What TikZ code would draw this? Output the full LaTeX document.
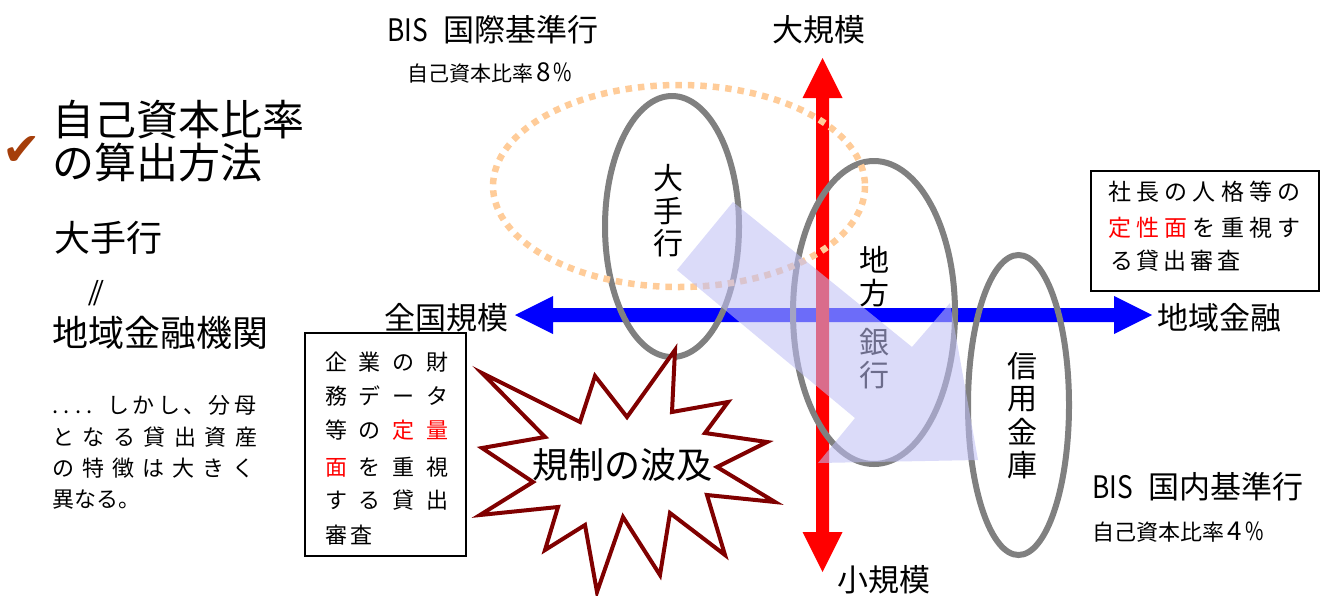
\documentclass[tikz,border=0pt]{standalone}
\usepackage{fontspec}
\usepackage{graphicx}
\setmainfont{Noto Sans CJK JP}
\newfontfamily\dejavu{DejaVu Sans}
\newfontfamily\libserif{Liberation Serif}
\newcommand\fs[1]{\fontsize{#1}{#1}\selectfont}
\makeatletter
\def\sp@stop{\sp@stop}
\newcommand\spreadtxt[2]{\def\sp@w{#1}\sp@loop#2\sp@stop}
\def\sp@loop#1{\ifx#1\sp@stop\else\makebox[\sp@w][l]{#1}\expandafter\sp@loop\fi}
\makeatother
\definecolor{ellgray}{RGB}{128,128,128}
\definecolor{axred}{RGB}{255,0,0}
\definecolor{axblue}{RGB}{0,0,255}
\definecolor{dotorange}{RGB}{255,204,153}
\definecolor{starred}{RGB}{128,0,0}
\definecolor{checkbrown}{RGB}{165,62,10}
\definecolor{arrowlav}{rgb}{0.75,0.75,0.96}
\definecolor{txtred}{RGB}{255,0,0}
\begin{document}
\begin{tikzpicture}[x=1pt,y=-1pt,
  txt/.style={inner sep=0pt, anchor=west},
  ctxt/.style={inner sep=0pt, anchor=center},
  ell/.style={draw=ellgray, line width=6pt},
  boxframe/.style={draw=black, line width=1.8pt, inner sep=0pt, fill=none}]
\path[use as bounding box] (0,0) rectangle (1321,595);

% axes
\fill[axblue] (515,315) -- (553,296) -- (553,308) -- (1114,308) -- (1114,296) -- (1152,315) -- (1114,334) -- (1114,322) -- (553,322) -- (553,334) -- cycle;
\fill[axred] (822.5,58) -- (842.5,98) -- (829,98) -- (829,532) -- (842.5,532) -- (822.5,572) -- (802.5,532) -- (816,532) -- (816,98) -- (802.5,98) -- cycle;

% ellipses
\draw[ell] (672,226.5) ellipse [x radius=67, y radius=130.5];
\draw[ell] (874,312.5) ellipse [x radius=81, y radius=151.5];
\draw[ell] (1018.5,405) ellipse [x radius=50.5, y radius=150];
\draw[draw=dotorange, line width=6.5pt, dash pattern=on 6.5pt off 6pt] (679,186) ellipse [x radius=186, y radius=101];

% texts inside ellipses
\node[ctxt, font=\fs{30}] (oa) at (668,178) {大};
\node[ctxt, font=\fs{30}] (ob) at (668,211) {手};
\node[ctxt, font=\fs{30}] (oc) at (668,243) {行};
\node[ctxt, font=\fs{30}] (ca) at (874,260) {地};
\node[ctxt, font=\fs{30}] (cb) at (874,293) {方};
\node[ctxt, font=\fs{30}] (cc) at (874,342) {銀};
\node[ctxt, font=\fs{30}] (cd) at (874,375) {行};
\node[ctxt, font=\fs{30}] (sa) at (1022,366) {信};
\node[ctxt, font=\fs{30}] (sb) at (1022,399) {用};
\node[ctxt, font=\fs{30}] (sc) at (1022,432) {金};
\node[ctxt, font=\fs{30}] (sd) at (1022,465) {庫};

% translucent arrow
\fill[arrowlav, opacity=0.57] (733,202) -- (912,347) -- (950,303) -- (978,460) -- (818,463) -- (855,418) -- (677,270) -- cycle;

% starburst
\draw[starred, line width=4pt, fill=white, line join=miter]
  (482,373) -- (580,422) -- (595,376) -- (627,417) -- (675,350) -- (672,412)
  -- (728,402) -- (705,433) -- (767,442) -- (717,467) -- (775,502) -- (707,495)
  -- (725,555) -- (670,513) -- (660,575) -- (623,517) -- (597,592) -- (585,525)
  -- (545,550) -- (558,507) -- (480,515) -- (533,482) -- (482,448) -- (545,437) -- cycle;
\node[ctxt, font=\fs{36}] (wave) at (622,465) {規制の波及};

% axis labels
\node[ctxt, font=\fs{31}] (big) at (819,30) {大規模};
\node[ctxt, font=\fs{31}] (small) at (884,580) {小規模};
\node[inner sep=0pt, anchor=east, font=\fs{31}] (zenkoku) at (509,318) {全国規模};
\node[txt, font=\fs{31}] (chiikik) at (1157,318) {地域金融};

% BIS labels
\node[txt, font=\fs{31}] (bis1) at (387,30) {\makebox[56pt][l]{\scalebox{0.85}[1]{BIS}}国際基準行};
\node[txt, font=\fs{21}] (r8) at (407,73) {自己資本比率\kern3pt\makebox[17pt][l]{\fs{26}8}\makebox[18pt][l]{\scalebox{0.8}[1]{\fs{25}\%}}};
\node[txt, font=\fs{31}] (bis2) at (1092,487) {\makebox[56pt][l]{\scalebox{0.85}[1]{BIS}}国内基準行};
\node[txt, font=\fs{22}] (r4) at (1092,532) {自己資本比率\kern3pt\makebox[18pt][l]{\fs{26}4}\makebox[18pt][l]{\scalebox{0.8}[1]{\fs{25}\%}}};

% left side
\node[ctxt, font=\dejavu\fs{46}, text=checkbrown] (chk) at (22,151) {✔};
\node[txt, font=\fs{42}] (title1) at (52,120) {自己資本比率};
\node[txt, font=\fs{42}] (title2) at (52,163) {の算出方法};
\node[txt, font=\fs{36}] (ote) at (54,238) {大手行};
\node[txt, font=\libserif\fs{38}] (eq) at (88,293) {/\kern-5pt/};
\node[txt, font=\fs{36}] (chiiki) at (52,333) {地域金融機関};
\node[txt, font=\fs{22}] (p1a) at (52,405) {\vphantom{し}\spreadtxt{11.5pt}{....}};
\node[txt, font=\fs{22}] (p1b) at (107,405) {\spreadtxt{25.4pt}{しかし、分母}};
\node[txt, font=\fs{22}] (p2) at (52,437) {\spreadtxt{30.5pt}{となる貸出資産}};
\node[txt, font=\fs{22}] (p3) at (52,468) {\spreadtxt{30pt}{の特徴は大きく}};
\node[txt, font=\fs{22}] (p4) at (52,500) {異なる。};

% left box
\node[boxframe, minimum width=161pt, minimum height=223pt] (lbox) at (385.5,444.5) {};
\node[txt, font=\fs{22}] (b1) at (325,362) {\spreadtxt{33.7pt}{企業の財}};
\node[txt, font=\fs{22}] (b2) at (325,396) {\spreadtxt{33.7pt}{務データ}};
\node[txt, font=\fs{22}] (b3) at (325,430) {\spreadtxt{33.7pt}{等の}{\color{txtred}\spreadtxt{33.7pt}{定量}}};
\node[txt, font=\fs{22}] (b4) at (325,467) {{\color{txtred}\spreadtxt{33.7pt}{面}}\spreadtxt{33.7pt}{を重視}};
\node[txt, font=\fs{22}] (b5) at (325,500) {\spreadtxt{33.7pt}{する貸出}};
\node[txt, font=\fs{22}] (b6) at (325,535) {\spreadtxt{25pt}{審査}};

% right box
\node[boxframe, minimum width=228pt, minimum height=120pt] (rbox) at (1205,231) {};
\node[txt, font=\fs{23}] (q1) at (1108,192) {\spreadtxt{28.2pt}{社長の人格等の}};
\node[txt, font=\fs{23}] (q2) at (1108,228) {{\color{txtred}\spreadtxt{28.2pt}{定性面}}\spreadtxt{28.2pt}{を重視す}};
\node[txt, font=\fs{23}] (q3) at (1110,261) {\spreadtxt{26.7pt}{る貸出審査}};
\end{tikzpicture}
\end{document}
